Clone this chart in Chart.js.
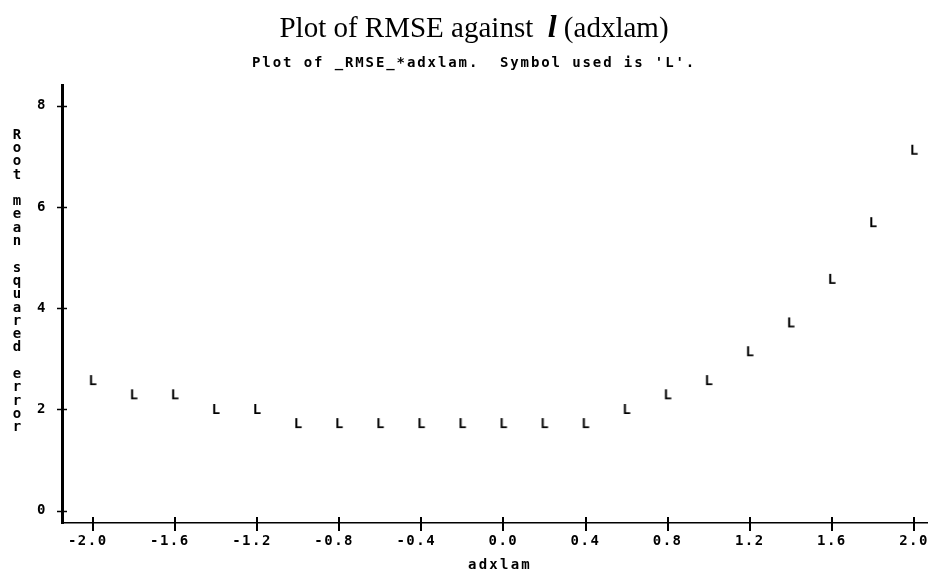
<!DOCTYPE html>
<html>
<head>
<meta charset="utf-8">
<script src="https://cdn.jsdelivr.net/npm/chart.js@4.4.0/dist/chart.umd.min.js"></script>
<style>
  html, body { margin: 0; padding: 0; background: #fff; }
</style>
</head>
<body>
<canvas id="chart" width="928" height="572"></canvas>
<script>
// values
const adxlam = [-2.0, -1.8, -1.6, -1.4, -1.2, -1.0, -0.8, -0.6, -0.4, -0.2, 0.0,
                0.2, 0.4, 0.6, 0.8, 1.0, 1.2, 1.4, 1.6, 1.8, 2.0];
const rmse = [2.58, 2.30, 2.30, 2.01, 2.01, 1.73, 1.73, 1.73, 1.73, 1.73, 1.73,
              1.73, 1.73, 2.01, 2.30, 2.58, 3.15, 3.72, 4.58, 5.70, 7.13];
const xTicks = [-2.0, -1.6, -1.2, -0.8, -0.4, 0.0, 0.4, 0.8, 1.2, 1.6, 2.0];
const yTicks = [0, 2, 4, 6, 8];

const monoFont = '"DejaVu Sans Mono", monospace';

// the plot symbol 'L' as a small image
function makeSymbol(ch) {
    let c = document.createElement('canvas');
    c.width = 14;
    c.height = 16;
    let g = c.getContext('2d');
    g.font = 'bold 14px ' + monoFont;
    g.fillStyle = '#000';
    g.textAlign = 'center';
    g.textBaseline = 'alphabetic';
    g.fillText(ch, 7, 8 + 5.1);
    return c;
}
const symbolL = makeSymbol('L');

// crossing tick marks and the text around the plot
const decorations = {
    id: 'decorations',
    beforeUpdate(chart) { chart.ctx.letterSpacing = '1.5px'; },
    beforeDraw(chart) { chart.ctx.letterSpacing = '1.5px'; },
    afterDraw(chart) {
        const {ctx, chartArea, scales} = chart;
        ctx.save();
        ctx.strokeStyle = '#000';
        ctx.fillStyle = '#000';

        ctx.lineWidth = 2;
        scales.x.ticks.forEach(t => {
            let px = Math.round(scales.x.getPixelForValue(t.value));
            ctx.beginPath();
            ctx.moveTo(px, chartArea.bottom - 6);
            ctx.lineTo(px, chartArea.bottom + 8);
            ctx.stroke();
        });
        ctx.lineWidth = 1.5;
        scales.y.ticks.forEach(t => {
            let py = Math.round(scales.y.getPixelForValue(t.value)) + 0.5;
            ctx.beginPath();
            ctx.moveTo(chartArea.left - 5, py);
            ctx.lineTo(chartArea.left + 5, py);
            ctx.stroke();
        });

        // main title, with the bold italic lambda
        ctx.letterSpacing = '0px';
        ctx.textBaseline = 'alphabetic';
        ctx.textAlign = 'left';
        const part1 = 'Plot of RMSE against  ';
        const part2 = 'l';
        const part3 = ' (adxlam)';
        const f1 = '29px "Liberation Serif"';
        const f2 = 'bold italic 32px "Liberation Serif"';
        ctx.font = f1;
        let w1 = ctx.measureText(part1).width;
        let w3 = ctx.measureText(part3).width;
        ctx.font = f2;
        let w2 = ctx.measureText(part2).width;
        let x0 = 474 - (w1 + w2 + w3) / 2;
        ctx.font = f1;
        ctx.fillText(part1, x0, 37);
        ctx.font = f2;
        ctx.fillText(part2, x0 + w1, 37);
        ctx.font = f1;
        ctx.fillText(part3, x0 + w1 + w2, 37);

        // SAS subtitle
        ctx.letterSpacing = '1.9px';
        ctx.font = 'bold 14px ' + monoFont;
        ctx.textBaseline = 'middle';
        ctx.fillText("Plot of _RMSE_*adxlam.  Symbol used is 'L'.", 252, 63);

        // x axis label
        ctx.letterSpacing = '2.2px';
        ctx.textAlign = 'center';
        ctx.fillText('adxlam', 500, 565);

        // y axis label, one character per row
        const yLabel = 'Root mean squared error';
        for (let i = 0; i < yLabel.length; i++) {
            ctx.fillText(yLabel[i], 18, 135 + i * 13.3);
        }
        ctx.restore();
    }
};

const ctx = document.getElementById('chart').getContext('2d');
const rmseChart = new Chart(ctx, {
    type: 'scatter',
    data: {
        datasets: [{
            label: 'RMSE',
            data: adxlam.map((x, i) => ({x: x, y: rmse[i]})),
            pointStyle: symbolL,
            showLine: false
        }]
    },
    options: {
        responsive: false,
        animation: false,
        layout: {
            autoPadding: false,
            padding: { top: 85, left: 0, right: 0, bottom: 0 }
        },
        plugins: {
            legend: { display: false },
            tooltip: { enabled: false }
        },
        scales: {
            x: {
                type: 'linear',
                min: -2.1495,
                max: 2.068,
                afterFit: s => {
                    s.height = 49;
                    s.paddingLeft = 0;
                    s.paddingRight = 0;
                },
                afterBuildTicks: s => { s.ticks = xTicks.map(v => ({value: v})); },
                grid: { display: false, drawTicks: false },
                border: { display: true, color: '#000', width: 1.5 },
                ticks: {
                    color: '#000',
                    padding: 10,
                    maxRotation: 0,
                    autoSkip: false,
                    font: { family: monoFont, weight: 'bold', size: 14 },
                    // negative labels hang the minus sign to the left
                    callback: v => v.toFixed(1) + (v < 0 ? ' ' : '')
                }
            },
            y: {
                type: 'linear',
                min: -0.243,
                max: 8.409,
                afterFit: s => {
                    s.width = 62;
                    s.paddingTop = 0;
                    s.paddingBottom = 0;
                },
                afterBuildTicks: s => { s.ticks = yTicks.map(v => ({value: v})); },
                grid: { display: false, drawTicks: false },
                border: { display: true, color: '#000', width: 3 },
                ticks: {
                    color: '#000',
                    padding: 15,
                    autoSkip: false,
                    font: { family: monoFont, weight: 'bold', size: 14 },
                    callback: v => String(v)
                }
            }
        }
    },
    plugins: [decorations]
});
</script>
</body>
</html>
